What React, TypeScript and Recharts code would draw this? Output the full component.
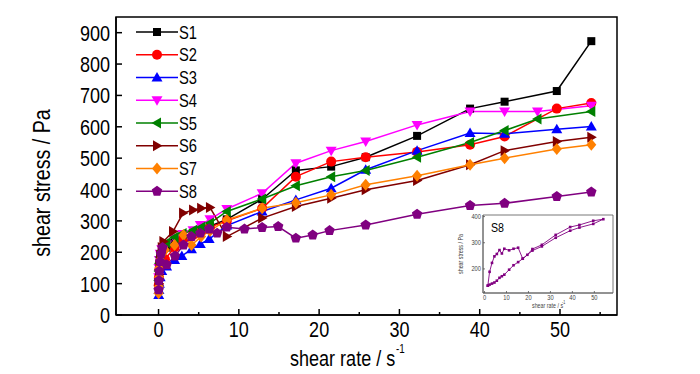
import React from "react";
import { LineChart, Line, XAxis, YAxis, ReferenceArea } from "recharts";

type Pt = [number, number];

// shear rate (1/s), shear stress (Pa)
const S1: Pt[] = [[0.02, 110], [0.05, 135], [0.1, 160], [0.2, 180], [0.4, 200], [1, 215], [2, 235], [3, 250], [4.3, 262], [5.3, 272], [6.4, 283], [8.5, 305], [12.9, 369], [17.1, 461], [21.5, 473], [25.8, 503], [32.2, 571], [38.8, 658], [43.1, 680], [49.6, 714], [53.9, 873]];
const S2: Pt[] = [[0.02, 95], [0.05, 120], [0.1, 145], [0.2, 165], [0.4, 180], [0.8, 178], [2, 215], [3, 240], [4.3, 255], [5.3, 268], [6.4, 280], [8.5, 300], [12.9, 340], [17.1, 441], [21.5, 489], [25.8, 503], [32.2, 520], [38.8, 543], [43.1, 569], [49.6, 658], [53.9, 676]];
const S3: Pt[] = [[0.02, 64], [0.05, 80], [0.1, 100], [0.2, 120], [0.4, 140], [1, 155], [2, 175], [2.9, 188], [4.1, 210], [5.2, 226], [6.3, 242], [8.5, 285], [12.9, 330], [17.1, 367], [21.5, 404], [25.8, 463], [32.2, 524], [38.8, 580], [43.1, 578], [49.6, 592], [53.9, 601]];
const S4: Pt[] = [[0.02, 120], [0.05, 150], [0.1, 175], [0.2, 195], [0.4, 210], [1, 225], [2, 245], [3, 258], [4.3, 270], [5.2, 287], [6.4, 305], [8.5, 338], [12.9, 388], [17.1, 484], [21.5, 524], [25.8, 553], [32.2, 606], [38.8, 649], [43.1, 649], [47.2, 649], [53.9, 667]];
const S5: Pt[] = [[0.02, 110], [0.05, 140], [0.1, 165], [0.2, 185], [0.4, 205], [1, 230], [2, 248], [3, 260], [4.3, 270], [5.3, 280], [6.4, 293], [8.5, 330], [12.9, 370], [17.1, 412], [21.5, 441], [25.8, 461], [32.2, 503], [38.8, 550], [43.1, 588], [47.2, 625], [53.9, 649]];
const S6: Pt[] = [[0.02, 100], [0.05, 130], [0.1, 160], [0.2, 190], [0.4, 215], [0.6, 234], [1.8, 266], [3.05, 325], [4.3, 335], [5.3, 340], [6.4, 343], [8.5, 250], [12.9, 309], [17.1, 346], [21.5, 372], [25.8, 399], [32.2, 429], [38.8, 479], [43.1, 524], [49.6, 553], [53.9, 567]];
const S7: Pt[] = [[0.01, 69], [0.03, 90], [0.06, 120], [0.1, 150], [0.2, 175], [0.4, 195], [0.8, 207], [2, 223], [3.1, 255], [4.1, 223], [5.3, 250], [6.4, 268], [8.5, 303], [12.9, 340], [17.1, 358], [21.5, 383], [25.8, 415], [32.2, 444], [38.8, 479], [43.1, 500], [49.6, 529], [53.9, 543]];
const S8: Pt[] = [[0.01, 80], [0.05, 110], [0.1, 140], [0.2, 170], [0.3, 195], [0.5, 215], [1, 160], [2.05, 188], [3.1, 223], [4.1, 250], [5.2, 261], [6.3, 274], [7.3, 261], [8.5, 280], [10.7, 274], [12.9, 279], [14.9, 282], [17.1, 245], [19.2, 255], [21.3, 269], [25.8, 287], [32.2, 321], [38.8, 349], [43.1, 356], [49.6, 378], [53.9, 392]];

// inset: S8 hysteresis loop (up then down sweep)
const S8_UP: Pt[] = [[1.5, 136], [2.3, 189], [3.4, 223], [4.5, 248], [5.6, 257], [6.8, 272], [7.9, 259], [9, 277], [11.2, 271], [13.2, 277], [15.3, 281], [17.4, 239], [19.5, 254], [21.8, 276], [26.1, 292], [32.4, 330], [39, 360], [43.2, 368], [49.5, 384], [54.1, 390]];
const S8_DOWN: Pt[] = [[49.5, 372], [43.2, 358], [39, 346], [32.4, 319], [26.1, 286], [21.8, 270], [17.4, 239], [15.3, 226], [13.2, 214], [11.2, 197], [9, 178], [7.9, 172], [6.8, 166], [5.6, 155], [4.5, 148], [3.4, 144], [2.3, 140], [1.5, 136]];

const X_TICKS = [0, 5, 10, 15, 20, 25, 30, 35, 40, 45, 50, 55];
const Y_TICKS = [0, 50, 100, 150, 200, 250, 300, 350, 400, 450, 500, 550, 600, 650, 700, 750, 800, 850, 900];
const INSET_X_TICKS = [0, 10, 20, 30, 40, 50];
const INSET_Y_TICKS = [150, 200, 250, 300, 350, 400];

const FONT = "'Liberation Sans', Arial, sans-serif";
const NARROW = 0.82;

const series = [
  { name: "S1", color: "#000000", shape: "square", points: S1 },
  { name: "S2", color: "#ff0000", shape: "circle", points: S2 },
  { name: "S3", color: "#0000ff", shape: "up", points: S3 },
  { name: "S4", color: "#ff00ff", shape: "down", points: S4 },
  { name: "S5", color: "#008000", shape: "left", points: S5 },
  { name: "S6", color: "#800000", shape: "right", points: S6 },
  { name: "S7", color: "#ff8000", shape: "diamond", points: S7 },
  { name: "S8", color: "#800080", shape: "pentagon", points: S8 },
];

const toRows = (pts: Pt[]) => pts.map(([x, y]) => ({ x, y }));

// condensed text (Arial Narrow look)
function NText({ x, y, size, anchor = "start", fill = "#000", rotate = false, children }: any) {
  return (
    <text
      transform={`translate(${x},${y})${rotate ? " rotate(-90)" : ""} scale(${NARROW},1)`}
      textAnchor={anchor}
      fontSize={size}
      fontFamily={FONT}
      fill={fill}
    >
      {children}
    </text>
  );
}

function Marker({ cx, cy, shape, color }: any) {
  if (cx == null || cy == null) return null;
  const poly = (pts: number[][]) => <polygon points={pts.map((p) => p.join(",")).join(" ")} fill={color} />;
  switch (shape) {
    case "square":
      return <rect x={cx - 4} y={cy - 4} width={8} height={8} fill={color} />;
    case "circle":
      return <circle cx={cx} cy={cy} r={5} fill={color} />;
    case "up":
      return poly([[cx, cy - 5.5], [cx + 5.5, cy + 4], [cx - 5.5, cy + 4]]);
    case "down":
      return poly([[cx, cy + 5.5], [cx + 5.5, cy - 4], [cx - 5.5, cy - 4]]);
    case "left":
      return poly([[cx - 5.5, cy], [cx + 4, cy - 5.5], [cx + 4, cy + 5.5]]);
    case "right":
      return poly([[cx + 5.5, cy], [cx - 4, cy - 5.5], [cx - 4, cy + 5.5]]);
    case "diamond":
      return poly([[cx, cy - 6], [cx + 5, cy], [cx, cy + 6], [cx - 5, cy]]);
    default: {
      const pts = [0, 1, 2, 3, 4].map((k) => {
        const a = (-90 + 72 * k) * (Math.PI / 180);
        return [cx + 5.5 * Math.cos(a), cy + 5.5 * Math.sin(a)];
      });
      return poly(pts);
    }
  }
}

const YTick = ({ x, y, payload }: any) => {
  const major = payload.value % 100 === 0;
  return (
    <g>
      <line x1={x} y1={y} x2={x + (major ? 6 : 3)} y2={y} stroke="#000" strokeWidth={1.5} />
      {major && <NText x={x - 6} y={y + 8} size={22} anchor="end">{payload.value}</NText>}
    </g>
  );
};

const XTick = ({ x, y, payload }: any) => {
  const major = payload.value % 10 === 0;
  return (
    <g>
      <line x1={x} y1={y} x2={x} y2={y - (major ? 6 : 3)} stroke="#000" strokeWidth={1.5} />
      {major && <NText x={x} y={y + 22} size={22} anchor="middle">{payload.value}</NText>}
    </g>
  );
};

const InsetYTick = ({ x, y, payload }: any) => (
  <g>
    <line x1={x} y1={y} x2={x + 2} y2={y} stroke="#555" strokeWidth={0.8} />
    <NText x={x - 2} y={y + 2} size={7} anchor="end" fill="#444">{payload.value}</NText>
  </g>
);

const InsetXTick = ({ x, y, payload }: any) => (
  <g>
    <line x1={x} y1={y} x2={x} y2={y - 2} stroke="#555" strokeWidth={0.8} />
    <NText x={x} y={y + 7} size={7} anchor="middle" fill="#444">{payload.value}</NText>
  </g>
);

function LegendBox() {
  return (
    <svg width={90} height={190} style={{ position: "absolute", left: 130, top: 20 }}>
      {series.map((s, i) => {
        const y = 12 + i * 22.76;
        return (
          <g key={s.name}>
            <line x1={6} y1={y} x2={48} y2={y} stroke={s.color} strokeWidth={1.5} />
            <Marker cx={27} cy={y} shape={s.shape} color={s.color} />
            <NText x={49} y={y + 6.5} size={18}>{s.name}</NText>
          </g>
        );
      })}
    </svg>
  );
}

function Inset() {
  const rows = toRows([...S8_UP, ...S8_DOWN]);
  return (
    <div style={{ position: "absolute", left: 440, top: 205, width: 180, height: 110 }}>
      <LineChart width={180} height={110} data={rows} margin={{ top: 10, right: 7, bottom: 0, left: 0 }}>
        <XAxis
          type="number"
          dataKey="x"
          domain={[-0.7, 58.5]}
          ticks={INSET_X_TICKS}
          height={22}
          tickSize={0}
          tickMargin={0}
          tickLine={false}
          tick={<InsetXTick />}
          axisLine={{ stroke: "#555", strokeWidth: 0.8 }}
          allowDataOverflow
          label={{
            content: ({ viewBox }: any) => (
              <g>
                <NText x={viewBox.x + 49} y={viewBox.y + 15} size={6.5} fill="#444">shear rate / s</NText>
                <NText x={viewBox.x + 79} y={viewBox.y + 11} size={4.5} fill="#444">-1</NText>
              </g>
            ),
          }}
        />
        <YAxis
          type="number"
          domain={[108, 406]}
          ticks={INSET_Y_TICKS}
          width={43}
          tickSize={0}
          tickMargin={0}
          tickLine={false}
          tick={<InsetYTick />}
          axisLine={{ stroke: "#555", strokeWidth: 0.8 }}
          allowDataOverflow
          label={{
            content: ({ viewBox }: any) => (
              <NText x={viewBox.x + 23} y={viewBox.y + viewBox.height / 2} size={6.5} anchor="middle" fill="#444" rotate>
                shear stress / Pa
              </NText>
            ),
          }}
        />
        <ReferenceArea x1={-0.7} x2={58.5} y1={108} y2={406} fill="none" stroke="#555" strokeWidth={0.8} ifOverflow="visible" />
        <ReferenceArea
          x1={-0.7}
          x2={58.5}
          y1={108}
          y2={406}
          fill="none"
          stroke="none"
          label={{
            content: ({ viewBox }: any) => (
              <NText x={viewBox.x + 8} y={viewBox.y + 17} size={13}>S8</NText>
            ),
          }}
        />
        <Line
          type="linear"
          dataKey="y"
          stroke="#800080"
          strokeWidth={0.9}
          isAnimationActive={false}
          dot={(p: any) => <rect key={p.index} x={p.cx - 1.3} y={p.cy - 1.3} width={2.6} height={2.6} fill="#800080" />}
        />
      </LineChart>
    </div>
  );
}

export default function App() {
  return (
    <div style={{ position: "absolute", left: 0, top: 0, width: 700, height: 374, background: "#fff" }}>
      <LineChart width={700} height={374} margin={{ top: 17, right: 83, bottom: 0, left: 0 }}>
        <XAxis
          type="number"
          dataKey="x"
          domain={[-5.3, 57.1]}
          ticks={X_TICKS}
          height={59}
          tickSize={0}
          tickMargin={0}
          tickLine={false}
          tick={<XTick />}
          axisLine={{ stroke: "#000", strokeWidth: 1.5 }}
          allowDataOverflow
          label={{
            content: ({ viewBox }: any) => (
              <g>
                <NText x={viewBox.x + 174} y={viewBox.y + 51} size={22}>shear rate / s</NText>
                <NText x={viewBox.x + 280} y={viewBox.y + 38} size={12}>-1</NText>
              </g>
            ),
          }}
        />
        <YAxis
          type="number"
          domain={[0, 950]}
          ticks={Y_TICKS}
          width={116}
          tickSize={0}
          tickMargin={0}
          tickLine={false}
          tick={<YTick />}
          axisLine={{ stroke: "#000", strokeWidth: 1.5 }}
          allowDataOverflow
          label={{
            content: ({ viewBox }: any) => (
              <NText x={50} y={viewBox.y + viewBox.height / 2 + 17} size={24} anchor="middle" rotate>
                shear stress / Pa
              </NText>
            ),
          }}
        />
        <ReferenceArea x1={-5.3} x2={57.1} y1={0} y2={950} fill="none" stroke="#000" strokeWidth={1.5} ifOverflow="visible" />
        {series.map((s) => (
          <Line
            key={s.name}
            data={toRows(s.points)}
            type="linear"
            dataKey="y"
            name={s.name}
            stroke={s.color}
            strokeWidth={1.5}
            isAnimationActive={false}
            dot={(p: any) => <Marker key={p.index} cx={p.cx} cy={p.cy} shape={s.shape} color={s.color} />}
          />
        ))}
      </LineChart>
      <LegendBox />
      <Inset />
    </div>
  );
}
